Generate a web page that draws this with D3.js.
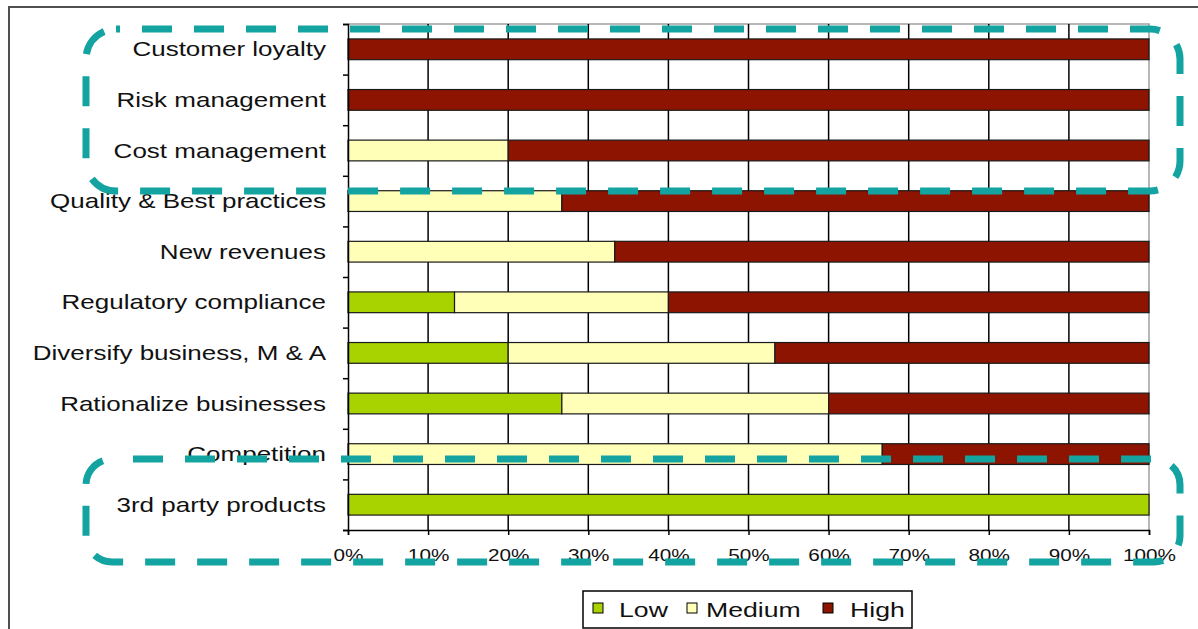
<!DOCTYPE html>
<html>
<head>
<meta charset="utf-8">
<script src="https://cdn.jsdelivr.net/npm/d3@7"></script>
<style>
  html, body { margin: 0; padding: 0; background: #fff; }
  svg { display: block; }
  text { font-family: "Liberation Sans", Arial, sans-serif; fill: #111; }
</style>
</head>
<body>
<svg id="chart" width="1198" height="629"></svg>
<script>
// Share of responses per driver, by importance level (percent)
const categories = [
  "Customer loyalty", "Risk management", "Cost management",
  "Quality & Best practices", "New revenues", "Regulatory compliance",
  "Diversify business, M & A", "Rationalize businesses", "Competition",
  "3rd party products"
];
const lowValues    = [0, 0, 0, 0, 0, 13.3, 20, 26.7, 0, 100];
const mediumValues = [0, 0, 20, 26.7, 33.3, 26.7, 33.3, 33.3, 66.7, 0];
const highValues   = [100, 100, 80, 73.3, 66.7, 60, 46.7, 40, 33.3, 0];
const seriesNames  = ["Low", "Medium", "High"];
const seriesColors = ["#a8d300", "#ffffb8", "#8c1400"];
const xTickValues  = [0, 10, 20, 30, 40, 50, 60, 70, 80, 90, 100];

const svg = d3.select("#chart");
const plot = { left: 348, right: 1149, top: 24, bottom: 530 };
const SX = 1.3; // horizontal stretch of the label lettering

// Outer frame (left and top edges)
svg.append("path")
  .attr("d", "M9,629 L9,7 L1198,7")
  .attr("fill", "none").attr("stroke", "#505050").attr("stroke-width", 2);

const x = d3.scaleLinear().domain([0, 100]).range([plot.left, plot.right]);
const y = d3.scaleBand().domain(categories)
  .range([plot.top, plot.bottom]).paddingInner(0.59).paddingOuter(0.295);
const yEdge = d3.scaleLinear().domain([0, categories.length]).range([plot.top, plot.bottom]);

// Plot border (top + right, grey)
svg.append("path")
  .attr("d", `M${plot.left},${plot.top} L${plot.right},${plot.top} L${plot.right},${plot.bottom}`)
  .attr("fill", "none").attr("stroke", "#a0a0a0").attr("stroke-width", 1.5);

// Vertical gridlines
svg.append("g").selectAll("line")
  .data(xTickValues.filter(v => v > 0 && v < 100))
  .join("line")
  .attr("x1", d => x(d)).attr("x2", d => x(d))
  .attr("y1", plot.top).attr("y2", plot.bottom)
  .attr("stroke", "#000").attr("stroke-width", 1.5);

// Stacked bars
const rows = categories.map((c, i) => ({ cat: c, Low: lowValues[i], Medium: mediumValues[i], High: highValues[i] }));
const stacked = d3.stack().keys(seriesNames)(rows);
const color = d3.scaleOrdinal().domain(seriesNames).range(seriesColors);

svg.append("g").selectAll("g")
  .data(stacked)
  .join("g")
  .attr("fill", d => color(d.key))
  .selectAll("rect")
  .data(d => d.filter(s => s[1] - s[0] > 0))
  .join("rect")
  .attr("x", d => x(d[0]))
  .attr("width", d => x(d[1]) - x(d[0]))
  .attr("y", d => y(d.data.cat))
  .attr("height", y.bandwidth())
  .attr("stroke", "#1a1a1a").attr("stroke-width", 1.2);

// Y axis with ticks on category boundaries
const yAxis = d3.axisLeft(yEdge)
  .tickValues(d3.range(0, categories.length + 1))
  .tickSize(5).tickFormat("");
const yg = svg.append("g").attr("transform", `translate(${plot.left},0)`).call(yAxis);
yg.select(".domain").attr("stroke", "#000").attr("stroke-width", 1.5);
yg.selectAll(".tick line").attr("stroke", "#000").attr("stroke-width", 1.5);

// Category labels
svg.append("g").selectAll("text")
  .data(categories)
  .join("text")
  .attr("transform", d => `translate(${plot.left - 22},${y(d) + y.bandwidth() / 2 + 7}) scale(${SX},1)`)
  .attr("text-anchor", "end")
  .style("font-size", "20px")
  .text(d => d);

// X axis
const xAxis = d3.axisBottom(x).tickValues(xTickValues).tickSize(5).tickFormat(d => d + "%");
const xg = svg.append("g").attr("transform", `translate(0,${plot.bottom})`).call(xAxis);
xg.select(".domain").attr("stroke", "#000").attr("stroke-width", 1.5);
xg.selectAll(".tick line").attr("stroke", "#000").attr("stroke-width", 1.5);
xg.selectAll(".tick text")
  .attr("y", null).attr("dy", null)
  .attr("transform", `translate(0,31) scale(1.22,1)`)
  .style("font-size", "17px")
  .style("font-family", "'Liberation Sans', Arial, sans-serif")
  .attr("fill", "#111");

// Legend
const legend = svg.append("g");
legend.append("rect")
  .attr("x", 583).attr("y", 591).attr("width", 329).attr("height", 37)
  .attr("fill", "#fff").attr("stroke", "#000").attr("stroke-width", 1.5);
const legendPos = [{ sq: 593, tx: 619 }, { sq: 687, tx: 706 }, { sq: 823, tx: 850 }];
seriesNames.forEach((name, i) => {
  legend.append("rect")
    .attr("x", legendPos[i].sq).attr("y", 603).attr("width", 10).attr("height", 10)
    .attr("fill", seriesColors[i]).attr("stroke", "#000").attr("stroke-width", 1);
  legend.append("text")
    .attr("transform", `translate(${legendPos[i].tx},617) scale(${SX},1)`)
    .style("font-size", "20.5px")
    .text(name);
});

// Dashed highlight frames
const frames = [
  { x: 86, y: 29, w: 1094, h: 162, r: 30, offset: 26 },
  { x: 86, y: 459, w: 1094, h: 103, r: 26, offset: 31 }
];
svg.append("g").selectAll("rect")
  .data(frames)
  .join("rect")
  .attr("x", d => d.x).attr("y", d => d.y)
  .attr("width", d => d.w).attr("height", d => d.h)
  .attr("rx", d => d.r).attr("ry", d => d.r)
  .attr("fill", "none")
  .attr("stroke", "#13a3a0").attr("stroke-width", 7)
  .attr("stroke-dasharray", "30 22")
  .attr("stroke-dashoffset", d => d.offset);
</script>
</body>
</html>
